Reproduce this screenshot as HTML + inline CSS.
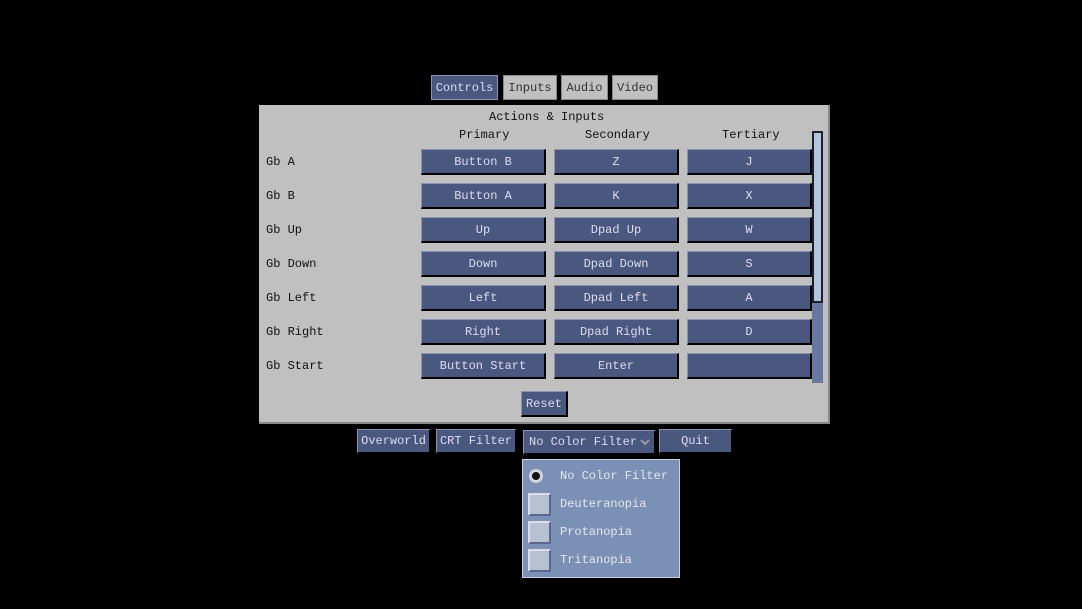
<!DOCTYPE html><html><head><style>
body{margin:0;width:1082px;height:609px;background:#000;position:relative;overflow:hidden;font-family:"Liberation Mono","DejaVu Sans Mono",monospace;font-size:12px}
.a{position:absolute;box-sizing:border-box}
.b{background:#4a5880;color:#dde;border-top:1px solid #8a94b0;border-left:1px solid #8a94b0;border-bottom:2px solid #000;border-right:2px solid #000;display:flex;align-items:center;justify-content:center}
.t{background:#c0c0c0;color:#333;border:1px solid #888;display:flex;align-items:center;justify-content:center}
.l{color:#111}
.cb{position:absolute;left:5px;width:23px;height:23px;background:#b8c0d4;border-top:2px solid #dde;border-left:2px solid #dde;border-bottom:2px solid #5a6890;border-right:2px solid #5a6890;box-sizing:border-box}
.o{position:absolute;left:37px;color:#e4e8f0}
</style></head><body>
<div class="a b" style="left:431px;top:75px;width:67px;height:25px;border:1px solid #8a94b0">Controls</div>
<div class="a t" style="left:503px;top:75px;width:54px;height:25px">Inputs</div>
<div class="a t" style="left:561px;top:75px;width:47px;height:25px">Audio</div>
<div class="a t" style="left:612px;top:75px;width:46px;height:25px">Video</div>
<div class="a" style="left:259px;top:105px;width:571px;height:319px;background:#c0c0c0;border-right:2px solid #888;border-bottom:2px solid #888"></div>
<div class="a l" style="left:489px;top:110px">Actions &amp; Inputs</div>
<div class="a l" style="left:459px;top:128px">Primary</div>
<div class="a l" style="left:585px;top:128px">Secondary</div>
<div class="a l" style="left:722px;top:128px">Tertiary</div>
<div class="a l" style="left:266px;top:155px">Gb A</div>
<div class="a l" style="left:266px;top:189px">Gb B</div>
<div class="a l" style="left:266px;top:223px">Gb Up</div>
<div class="a l" style="left:266px;top:257px">Gb Down</div>
<div class="a l" style="left:266px;top:291px">Gb Left</div>
<div class="a l" style="left:266px;top:325px">Gb Right</div>
<div class="a l" style="left:266px;top:359px">Gb Start</div>
<div class="a b" style="left:421px;top:149px;width:125px;height:26px">Button B</div>
<div class="a b" style="left:554px;top:149px;width:125px;height:26px">Z</div>
<div class="a b" style="left:687px;top:149px;width:125px;height:26px">J</div>
<div class="a b" style="left:421px;top:183px;width:125px;height:26px">Button A</div>
<div class="a b" style="left:554px;top:183px;width:125px;height:26px">K</div>
<div class="a b" style="left:687px;top:183px;width:125px;height:26px">X</div>
<div class="a b" style="left:421px;top:217px;width:125px;height:26px">Up</div>
<div class="a b" style="left:554px;top:217px;width:125px;height:26px">Dpad Up</div>
<div class="a b" style="left:687px;top:217px;width:125px;height:26px">W</div>
<div class="a b" style="left:421px;top:251px;width:125px;height:26px">Down</div>
<div class="a b" style="left:554px;top:251px;width:125px;height:26px">Dpad Down</div>
<div class="a b" style="left:687px;top:251px;width:125px;height:26px">S</div>
<div class="a b" style="left:421px;top:285px;width:125px;height:26px">Left</div>
<div class="a b" style="left:554px;top:285px;width:125px;height:26px">Dpad Left</div>
<div class="a b" style="left:687px;top:285px;width:125px;height:26px">A</div>
<div class="a b" style="left:421px;top:319px;width:125px;height:26px">Right</div>
<div class="a b" style="left:554px;top:319px;width:125px;height:26px">Dpad Right</div>
<div class="a b" style="left:687px;top:319px;width:125px;height:26px">D</div>
<div class="a b" style="left:421px;top:353px;width:125px;height:26px">Button Start</div>
<div class="a b" style="left:554px;top:353px;width:125px;height:26px">Enter</div>
<div class="a b" style="left:687px;top:353px;width:125px;height:26px"></div>
<div class="a" style="left:812px;top:131px;width:11px;height:252px;background:#6878a0"></div>
<div class="a" style="left:812px;top:131px;width:11px;height:172px;background:#b4c4dc;border:2px solid #1a2030"></div>
<div class="a b" style="left:521px;top:391px;width:47px;height:26px">Reset</div>
<div class="a b" style="left:357px;top:429px;width:74px;height:25px">Overworld</div>
<div class="a b" style="left:436px;top:429px;width:81px;height:25px">CRT Filter</div>
<div class="a b" style="left:523px;top:430px;width:133px;height:25px;justify-content:flex-start;padding-left:5px">No Color Filter<svg style="position:absolute;right:4px;top:8px" width="10" height="7"><polyline points="1,1 5,5 9,1" fill="none" stroke="#99a" stroke-width="2"/></svg></div>
<div class="a b" style="left:659px;top:429px;width:74px;height:25px">Quit</div>
<div class="a" style="left:522px;top:459px;width:158px;height:119px;background:#7a90b4;border:1px solid #c8d0e0">
<div style="position:absolute;left:6px;top:9px;width:14px;height:14px;border-radius:50%;background:#d0d6e4"><div style="position:absolute;left:3px;top:3px;width:8px;height:8px;border-radius:50%;background:#111"></div></div>
<div class="o" style="top:9px">No Color Filter</div>
<div class="cb" style="top:33px"></div><div class="o" style="top:37px">Deuteranopia</div>
<div class="cb" style="top:61px"></div><div class="o" style="top:65px">Protanopia</div>
<div class="cb" style="top:89px"></div><div class="o" style="top:93px">Tritanopia</div>
</div>
</body></html>
